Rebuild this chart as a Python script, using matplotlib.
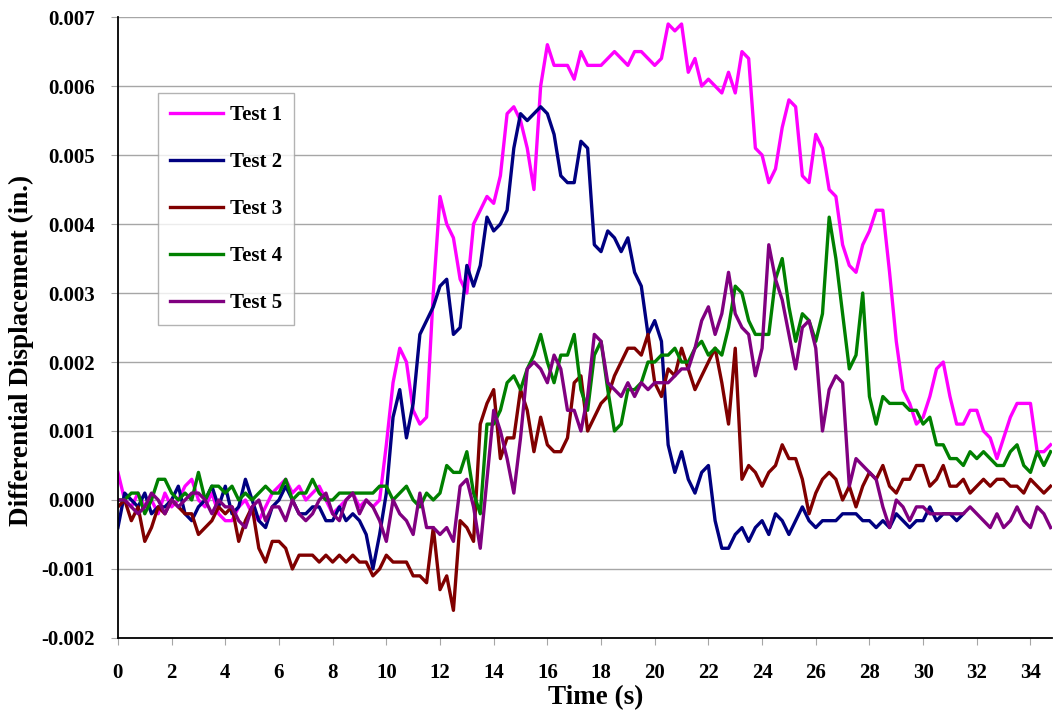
import numpy as np
import matplotlib
matplotlib.use("Agg")
import matplotlib.pyplot as plt
from matplotlib.ticker import FuncFormatter, MultipleLocator

# sample times (s), 0.25 s spacing
t = np.arange(140) * 0.25

# values in units of 1e-4 in.
test1 = [4, 0, -1, 1, -1, 0, -2, 1, -1, 0, 2, 3, 0, -1, 1, -2, -3, -3, -1, 0,
         -2, -3, -1, 1, 2, 3, 1, 2, 0, 1, 2, 0, -2, -1, 0, 1, -1, 0, -1, 0,
         8, 17, 22, 20, 13, 11, 12, 30, 44, 40, 38, 32, 30, 40, 42, 44, 43, 47, 56, 57,
         55, 51, 45, 60, 66, 63, 63, 63, 61, 65, 63, 63, 63, 64, 65, 64, 63, 65, 65, 64,
         63, 64, 69, 68, 69, 62, 64, 60, 61, 60, 59, 62, 59, 65, 64, 51, 50, 46, 48, 54,
         58, 57, 47, 46, 53, 51, 45, 44, 37, 34, 33, 37, 39, 42, 42, 33, 23, 16, 14, 11,
         12, 15, 19, 20, 15, 11, 11, 13, 13, 10, 9, 6, 9, 12, 14, 14, 14, 7, 7, 8]

test2 = [-4, 1, 0, -1, 1, -2, -1, -1, 0, 2, -2, -3, -1, 0, 2, -1, 2, -2, -1, 3,
         0, -3, -4, -1, 0, 2, 0, -2, -2, -1, -1, -3, -3, -1, -3, -2, -3, -5, -10, -5,
         1, 12, 16, 9, 14, 24, 26, 28, 31, 32, 24, 25, 34, 31, 34, 41, 39, 40, 42, 51,
         56, 55, 56, 57, 56, 53, 47, 46, 46, 52, 51, 37, 36, 39, 38, 36, 38, 33, 31, 24,
         26, 23, 8, 4, 7, 3, 1, 4, 5, -3, -7, -7, -5, -4, -6, -4, -3, -5, -2, -3,
         -5, -3, -1, -3, -4, -3, -3, -3, -2, -2, -2, -3, -3, -4, -3, -4, -2, -3, -4, -3,
         -3, -1, -3, -2, -2, -3, -2]

test3 = [-1, 0, -3, -1, -6, -4, -1, -2, 0, -1, -2, -2, -5, -4, -3, -1, -2, -1, -6, -3,
         -1, -7, -9, -6, -6, -7, -10, -8, -8, -8, -9, -8, -9, -8, -9, -8, -9, -9, -11, -10,
         -8, -9, -9, -9, -11, -11, -12, -4, -13, -11, -16, -3, -4, -6, 11, 14, 16, 6, 9, 9,
         16, 13, 7, 12, 8, 7, 7, 9, 17, 18, 10, 12, 14, 15, 18, 20, 22, 22, 21, 24,
         17, 15, 19, 18, 22, 19, 16, 18, 20, 22, 17, 11, 22, 3, 5, 4, 2, 4, 5, 8,
         6, 6, 3, -2, 1, 3, 4, 3, 0, 2, -1, 2, 4, 3, 5, 2, 1, 3, 3, 5,
         5, 2, 3, 5, 2, 2, 3, 1, 2, 3, 2, 3, 3, 2, 2, 1, 3, 2, 1, 2]

test4 = [0, 0, 1, 1, -2, 0, 3, 3, 1, 0, 1, 0, 4, 0, 2, 2, 1, 2, 0, 1,
         0, 1, 2, 1, 1, 3, 0, 1, 1, 3, 1, 0, 0, 1, 1, 1, 1, 1, 1, 2,
         2, 0, 1, 2, 0, -1, 1, 0, 1, 5, 4, 4, 7, 1, -2, 11, 11, 13, 17, 18,
         16, 19, 21, 24, 20, 17, 21, 21, 24, 16, 13, 21, 23, 16, 10, 11, 16, 16, 17, 20,
         20, 21, 21, 22, 20, 20, 22, 23, 21, 22, 21, 25, 31, 30, 26, 24, 24, 24, 32, 35,
         28, 23, 27, 26, 23, 27, 41, 35, 27, 19, 21, 30, 15, 11, 15, 14, 14, 14, 13, 13,
         11, 12, 8, 8, 6, 6, 5, 7, 6, 7, 6, 5, 5, 7, 8, 5, 4, 7, 5, 7]

test5 = [0, 0, -1, -2, -1, 1, 0, -2, 0, -1, 0, 1, 1, 0, -2, 0, -1, -1, -3, -4,
         -1, 0, -3, -1, -1, -3, 0, -2, -3, -2, 0, 1, -2, -3, 0, 1, -2, 0, -1, -3,
         -6, 0, -2, -3, -5, 1, -4, -4, -5, -4, -6, 2, 3, -1, -7, 3, 13, 10, 6, 1,
         9, 19, 20, 19, 17, 21, 19, 13, 13, 10, 15, 24, 23, 17, 16, 15, 17, 15, 17, 16,
         17, 17, 17, 18, 19, 19, 22, 26, 28, 24, 27, 33, 27, 25, 24, 18, 22, 37, 32, 29,
         24, 19, 25, 26, 22, 10, 16, 18, 17, 2, 6, 5, 4, 3, -1, -4, 0, -1, -3, -1,
         -1, -2, -2, -2, -2, -2, -2, -1, -2, -3, -4, -2, -4, -3, -1, -3, -4, -1, -2, -4]

series = [("Test 1", test1, "#FF00FF"),
          ("Test 2", test2, "#000080"),
          ("Test 3", test3, "#800000"),
          ("Test 4", test4, "#008000"),
          ("Test 5", test5, "#800080")]

plt.rcParams['font.family'] = ['Liberation Serif', 'DejaVu Serif']
plt.rcParams['font.weight'] = 'bold'

fig = plt.figure(figsize=(10.53, 7.12), dpi=100)
ax = fig.add_axes([0.112, 0.104, 0.887, 0.872])

for name, vals, col in series:
    n = len(vals)
    y = np.array(vals, dtype=float) * 1e-4
    ax.plot(t[:n], y, color=col, lw=2.4, label=name, solid_joinstyle='round')

ax.set_xlim(0, 34.8)
ax.set_ylim(-0.002, 0.007)
ax.xaxis.set_major_locator(MultipleLocator(2))
ax.yaxis.set_major_locator(MultipleLocator(0.001))
ax.yaxis.set_major_formatter(FuncFormatter(lambda v, p: f"{v:.3f}"))
ax.grid(axis='y', color='#a6a6a6', lw=1)
ax.set_axisbelow(True)

for s in ['top', 'right']:
    ax.spines[s].set_visible(False)
for s in ['left', 'bottom']:
    ax.spines[s].set_color('black')
    ax.spines[s].set_linewidth(1.3)

ax.tick_params(axis='both', direction='out', length=5, color='#a6a6a6',
               labelsize=15)
ax.tick_params(axis='y', pad=11.5)
ax.tick_params(axis='x', pad=13)
for lab in ax.get_xticklabels() + ax.get_yticklabels():
    lab.set_fontweight('bold')

ax.set_xlabel("Time (s)", fontsize=19.5, fontweight='bold', va='center')
ax.xaxis.set_label_coords(0.512, -0.0966)
ax.set_ylabel("Differential Displacement (in.)", fontsize=19.5, fontweight='bold',
              va='center')
ax.yaxis.set_label_coords(-0.1028, 0.4638)

leg = ax.legend(loc='upper left', bbox_to_anchor=(0.0431, 0.877), fontsize=15,
                frameon=True, fancybox=False, edgecolor='#a0a0a0',
                labelspacing=1.3, handlelength=2.55, handletextpad=0.35,
                borderpad=0.55, borderaxespad=0.0)
leg.get_frame().set_linewidth(1.0)
for txt in leg.get_texts():
    txt.set_fontweight('bold')

fig.savefig("out.png", dpi=100)
